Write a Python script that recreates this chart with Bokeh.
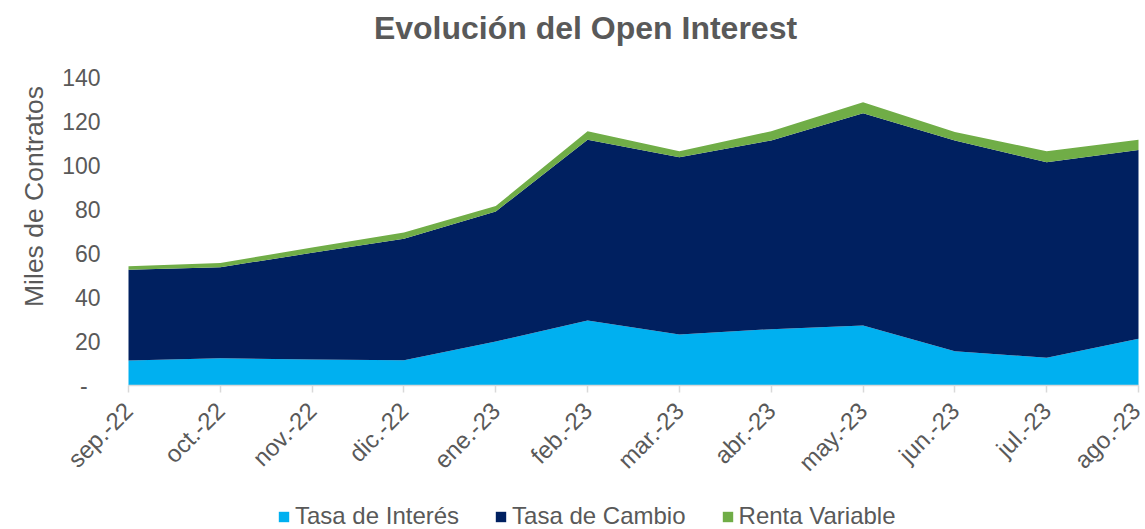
from bokeh.plotting import figure
from bokeh.models import (ColumnDataSource, Range1d, FixedTicker, Legend, LegendItem, Label)
from bokeh.embed import file_html
from bokeh.resources import INLINE
import math

months = ["sep.-22", "oct.-22", "nov.-22", "dic.-22", "ene.-23", "feb.-23",
          "mar.-23", "abr.-23", "may.-23", "jun.-23", "jul.-23", "ago.-23"]
tasa_interes = [11.4, 12.4, 11.8, 11.5, 20.0, 29.5, 23.2, 25.6, 27.3, 15.6, 12.6, 21.2]
tasa_cambio = [41.2, 41.4, 48.5, 55.2, 59.1, 82.2, 80.6, 85.8, 96.5, 95.8, 88.9, 85.9]
renta_variable = [1.6, 1.9, 2.4, 2.8, 2.5, 3.9, 2.7, 4.2, 5.0, 3.8, 5.0, 4.6]
y_ticks = [0, 20, 40, 60, 80, 100, 120, 140]

series = ["Tasa de Interés", "Tasa de Cambio", "Renta Variable"]
colors = ["#00B0F0", "#002060", "#70AD47"]

FONT = "Liberation Sans"
GREY = "#595959"

W, H = 1145, 529
# plot area in canvas pixels
PL, PR, PT, PB = 128, 1138, 77, 385
N = len(months)
YMAX = 140
kx = (PR - PL) / (N - 1)      # px per category
ky = (PB - PT) / YMAX         # px per unit


def dx(px):
    return (px - PL) / kx


def dy(py):
    return (PB - py) / ky


src = ColumnDataSource(dict(
    x=list(range(N)),
    ti=tasa_interes, tc=tasa_cambio, rv=renta_variable,
))

p = figure(width=W, height=H, output_backend="svg", toolbar_location=None,
           title_location=None,
           x_range=Range1d(dx(0), dx(W)), y_range=Range1d(dy(H), dy(0)),
           min_border=0)
p.outline_line_color = None
p.xgrid.visible = False
p.ygrid.visible = False
p.background_fill_color = "white"
p.border_fill_color = "white"

rs = p.varea_stack(["ti", "tc", "rv"], x="x", color=colors, source=src)

# X axis
xa = p.xaxis[0]
xa.fixed_location = 0
xa.bounds = (0, N - 1)
xa.ticker = FixedTicker(ticks=list(range(N)))
xa.major_label_overrides = {i: m for i, m in enumerate(months)}
xa.major_label_orientation = math.pi / 4
xa.major_label_text_font = FONT
xa.major_label_text_font_size = "24px"
xa.major_label_text_color = GREY
xa.axis_line_color = "#D9D9D9"
xa.axis_line_width = 1.5
xa.major_tick_line_color = "#D9D9D9"
xa.major_tick_line_width = 1.5
xa.major_tick_in = 0
xa.major_tick_out = 7
xa.minor_tick_line_color = None
xa.major_label_standoff = 14

# Y axis
ya = p.yaxis[0]
ya.fixed_location = 0
ya.bounds = (0, YMAX)
ya.ticker = FixedTicker(ticks=y_ticks)
ya.major_label_overrides = {0: "-\u00a0\u00a0"}
ya.major_label_text_font = FONT
ya.major_label_text_font_size = "23px"
ya.major_label_text_color = GREY
ya.axis_line_color = None
ya.major_tick_line_color = None
ya.minor_tick_line_color = None
ya.major_tick_out = 0
ya.major_tick_in = 0
ya.major_label_standoff = 28

# Title
p.add_layout(Label(x=dx(585), y=dy(27), text="Evolución del Open Interest",
                   text_align="center", text_baseline="alphabetic",
                   text_font=FONT, text_font_size="32px", text_font_style="bold",
                   text_color=GREY))

# Y axis title
p.add_layout(Label(x=dx(33), y=dy(196), text="Miles de Contratos", angle=math.pi / 2,
                   text_align="center", text_baseline="middle",
                   text_font=FONT, text_font_size="26.5px", text_color=GREY))

legend = Legend(items=[LegendItem(label=s, renderers=[r]) for s, r in zip(series, rs)],
                orientation="horizontal", location=(277, -1))
legend.label_text_font = FONT
legend.label_text_font_size = "24px"
legend.label_text_color = GREY
legend.glyph_width = 13
legend.glyph_height = 13
legend.label_standoff = 5
legend.spacing = 35
legend.padding = 0
legend.margin = 0
legend.label_height = 24
legend.border_line_color = None
legend.background_fill_alpha = 0
p.add_layout(legend, "center")

open("out.html", "w").write(file_html(p, INLINE))
